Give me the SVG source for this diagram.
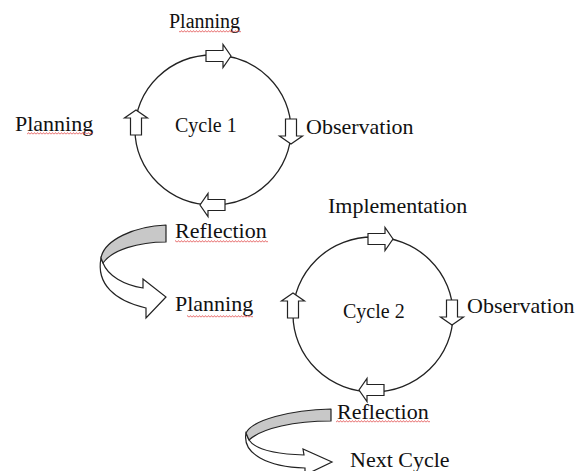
<svg xmlns="http://www.w3.org/2000/svg" xmlns:xlink="http://www.w3.org/1999/xlink" width="577" height="471" viewBox="0 0 577 471">
  <style>
    text { font-family: "Liberation Serif", "Times New Roman", serif; fill: #111; }
    .t22 { font-size: 22px; }
    .t20 { font-size: 20px; }
    .ring { fill: none; stroke: #222; stroke-width: 1.3; }
    .blk { fill: #fff; stroke: #222; stroke-width: 1.2; stroke-linejoin: miter; }
    .band { fill: #c8c8c8; stroke: #222; stroke-width: 1.2; stroke-linejoin: round; }
    .under { fill: #fff; stroke: #222; stroke-width: 1.2; stroke-linejoin: miter; }
    .sq { fill: url(#squig); }
  </style>
  <defs>
    <path id="blockArrow" class="blk" d="M0,-5.5 H17 V-11.5 L25,0 L17,11.5 V5.5 H0 Z"/>
    <pattern id="squig" width="3" height="3" patternUnits="userSpaceOnUse">
      <path d="M0,2.4 L1.5,0.6 L3,2.4" fill="none" stroke="#e04545" stroke-width="0.8"/>
    </pattern>
  </defs>
  <rect width="577" height="471" fill="#fff"/>

  <g id="cycle1">
    <ellipse class="ring" cx="213" cy="130" rx="78" ry="75"/>
    <use xlink:href="#blockArrow" transform="translate(206,56)"/>
    <use xlink:href="#blockArrow" transform="translate(291,119) rotate(90)"/>
    <use xlink:href="#blockArrow" transform="translate(225,205) rotate(180)"/>
    <use xlink:href="#blockArrow" transform="translate(136,135) rotate(-90)"/>
    <text class="t20" x="175" y="132">Cycle 1</text>
  </g>

  <g id="cycle2">
    <ellipse class="ring" cx="373" cy="314.5" rx="80" ry="77.5"/>
    <use xlink:href="#blockArrow" transform="translate(368,239)"/>
    <use xlink:href="#blockArrow" transform="translate(452,300) rotate(90)"/>
    <use xlink:href="#blockArrow" transform="translate(384,390) rotate(180)"/>
    <use xlink:href="#blockArrow" transform="translate(293,318) rotate(-90)"/>
    <text class="t20" x="343" y="318">Cycle 2</text>
  </g>

  <g id="label-planning-top">
    <text class="t20" x="169" y="28">Planning</text>
    <rect class="sq" x="179" y="30" width="62" height="3"/>
  </g>
  <g id="label-planning-left">
    <text class="t22" x="15" y="131">Planning</text>
    <rect class="sq" x="27" y="132" width="66" height="3"/>
  </g>
  <g id="label-observation-1">
    <text class="t22" x="306" y="134">Observation</text>
  </g>
  <g id="label-reflection-1">
    <text class="t22" x="175" y="238">Reflection</text>
    <rect class="sq" x="175" y="240" width="93" height="3"/>
  </g>
  <g id="label-planning-mid">
    <text class="t22" x="175" y="311">Planning</text>
    <rect class="sq" x="187" y="315" width="66" height="3"/>
  </g>
  <g id="label-implementation">
    <text class="t22" x="328" y="213">Implementation</text>
  </g>
  <g id="label-observation-2">
    <text class="t22" x="467" y="313">Observation</text>
  </g>
  <g id="label-reflection-2">
    <text class="t22" x="337" y="419">Reflection</text>
    <rect class="sq" x="336" y="420" width="94" height="3"/>
  </g>
  <g id="label-next-cycle">
    <text class="t22" x="350" y="467">Next Cycle</text>
  </g>

  <g id="connectors">
    <g id="uturn-1">
      <path class="under" d="M101,258 C96,284 115,301 146,308 L146,318 L166,297 L143,279 L143,288 C124,285 108,276 103,263 Z"/>
      <path class="band" d="M166,225 C135,226 104,240 101,258 L103,263 C112,250 138,242 166,242 Z"/>
    </g>
    <g id="uturn-2">
      <path class="under" d="M246,433 C242,454 268,467 305,468 L305,475 L332,462 L303,449 L304,455 C274,454 255,449 249,440 Z"/>
      <path class="band" d="M331,409 C290,410 252,420 246,433 L249,440 C262,428 295,421 331,421 Z"/>
    </g>
  </g>
</svg>
